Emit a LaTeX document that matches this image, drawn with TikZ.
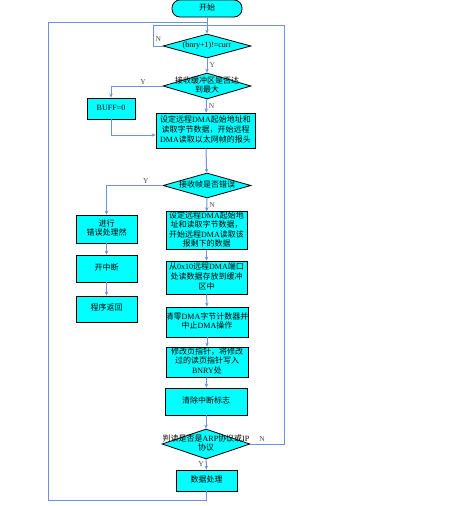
\documentclass[tikz,border=0pt]{standalone}
\usepackage{fontspec}
\setmainfont{Liberation Serif}
\newfontfamily\cjk{Noto Sans CJK SC}
\usetikzlibrary{shapes.geometric,arrows.meta}
\newXeTeXintercharclass\cjkcls
\count255="3000
\loop \XeTeXcharclass\count255=\cjkcls \advance\count255 by 1 \ifnum\count255<"A000 \repeat
\count255="FF00
\loop \XeTeXcharclass\count255=\cjkcls \advance\count255 by 1 \ifnum\count255<"FFF0 \repeat
\XeTeXinterchartoks 0 \cjkcls = {\cjk}
\XeTeXinterchartoks 4095 \cjkcls = {\cjk}
\XeTeXinterchartoks \cjkcls 0 = {\rmfamily}
\XeTeXinterchartoks \cjkcls 4095 = {\rmfamily}
\XeTeXinterchartokenstate=1
\definecolor{ln}{RGB}{112,146,214}
\definecolor{bx}{RGB}{0,255,255}
\newcommand\mlc[1]{\makebox[0pt]{\begin{tabular}{@{}c@{}}#1\end{tabular}}}
\tikzset{
 base/.style={draw=black, line width=0.8pt, fill=bx, inner sep=0pt, font=\fontsize{8}{9.5}\selectfont},
 proc/.style={base, rectangle},
 dec/.style={base, diamond, minimum width=88pt},
 term/.style={base, rounded corners=8pt, minimum width=70pt, minimum height=17pt},
 line/.style={draw=ln, line width=1pt},
 arr/.style={line, -{Stealth[length=4pt,width=3.5pt]}},
 lbl/.style={font=\fontsize{7.5}{8}\selectfont, text=black!70, inner sep=0pt}
}
\begin{document}
\begin{tikzpicture}[x=1pt,y=-1pt]
\useasboundingbox (0,0) rectangle (451,506);
\node[term] (start) at (207,8.5) {\mlc{开始}};
\node[dec, minimum height=24pt] (d1) at (207,46) {\mlc{(bnry+1)!=curr}};
\node[dec, minimum height=26pt] (d2) at (207,86) {\mlc{接收缓冲区是否达\\到最大}};
\node[proc, minimum width=48pt, minimum height=21pt] (buff) at (111,108.5) {\mlc{BUFF=0}};
\node[proc, minimum width=99pt, minimum height=35pt] (b3) at (205.5,130.5) {\mlc{设定远程DMA起始地址和\\读取字节数据，开始远程\\DMA读取以太网帧的报头}};
\node[dec, minimum height=25pt] (d3) at (207,185.5) {\mlc{接收帧是否错误}};
\node[proc, minimum width=61pt, minimum height=28pt] (ba) at (106.5,229) {\mlc{进行\\错误处理然}};
\node[proc, minimum width=61pt, minimum height=27pt] (bb) at (106.5,268.5) {\mlc{开中断}};
\node[proc, minimum width=61pt, minimum height=26pt] (bc) at (106.5,309) {\mlc{程序返回}};
\node[proc, minimum width=81pt, minimum height=35pt, font=\fontsize{8}{8.8}\selectfont] (bd) at (206.5,230.5) {\mlc{设定远程DMA起始地\\址和读取字节数据，\\开始远程DMA读取该\\报剩下的数据}};
\node[proc, minimum width=81pt, minimum height=33pt] (be) at (206.5,277.5) {\mlc{从0x10远程DMA端口\\处读数据存放到缓冲\\区中}};
\node[proc, minimum width=82pt, minimum height=30pt] (bf) at (207,322) {\mlc{清零DMA字节计数器并\\中止DMA操作}};
\node[proc, minimum width=82pt, minimum height=30pt] (bg) at (207,362) {\mlc{修改页指针，将修改\\过的读页指针写入\\BNRY处}};
\node[proc, minimum width=82pt, minimum height=27pt] (bh) at (206,401.5) {\mlc{清除中断标志}};
\node[dec, minimum height=30pt] (d4) at (206,444) {\mlc{判读是否是ARP协议或IP\\协议}};
\node[proc, minimum width=61pt, minimum height=21pt] (bi) at (206.5,480.5) {\mlc{数据处理}};
\coordinate (jt) at (207,22);
\coordinate (jr) at (207,25.5);
\coordinate (rx) at (284,444);
\coordinate (lb) at (48,500);
\coordinate (nl) at (153,46);
\draw[arr] (start) -- (d1);
\draw[line] (bi.south) |- (lb) |- (jt);
\draw[line] (d4.east) -- (rx) node[lbl, pos=0.35, above=2pt] {N} |- (jr);
\draw[line] (d1.west) -- (nl) node[lbl, pos=0.45, above=4pt] {N} |- (jr);
\draw[arr] (d1) -- (d2) node[lbl, midway, right=2pt] {Y};
\draw[arr] (d2.west) -| (buff.north) node[lbl, pos=0.19, above=1.5pt] {Y};
\draw[arr] (buff.south) |- ([yshift=-4.5pt]b3.west);
\draw[arr] (d2) -- (b3) node[lbl, midway, right=2pt] {N};
\draw[arr] (b3) -- (d3);
\draw[arr] (d3.west) -| (ba.north) node[lbl, pos=0.15, above=1.5pt] {Y};
\draw[arr] (ba) -- (bb);
\draw[arr] (bb) -- (bc);
\draw[arr] (d3) -- (bd) node[lbl, midway, right=2pt] {N};
\draw[arr] (bd) -- (be);
\draw[arr] (be) -- (bf);
\draw[arr] (bf) -- (bg);
\draw[arr] (bg) -- (bh);
\draw[arr] (bh) -- (d4);
\draw[arr] (d4) -- (bi) node[lbl, midway, left=2pt] {Y};
\end{tikzpicture}
\end{document}
